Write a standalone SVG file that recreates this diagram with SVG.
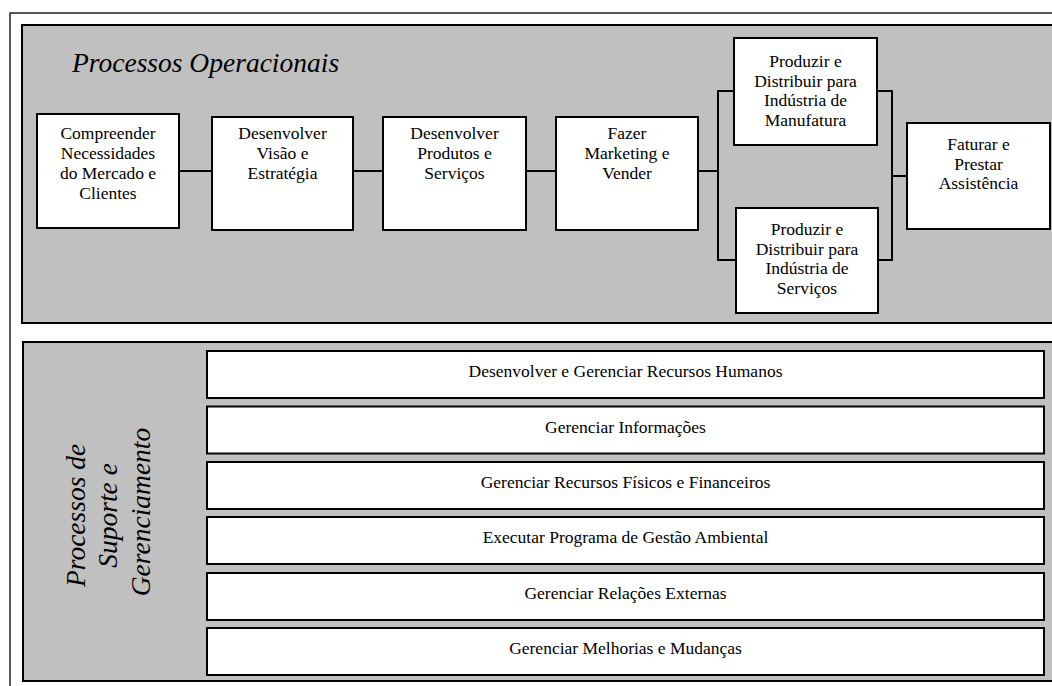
<svg xmlns="http://www.w3.org/2000/svg" width="1052" height="686" viewBox="0 0 1052 686">
  <style>
    .frame { fill: #ffffff; stroke: #222; stroke-width: 1.5; }
    .panel { fill: #c0c0c0; stroke: #000; stroke-width: 2; }
    .box { fill: #ffffff; stroke: #000; stroke-width: 2; }
    .lbl { font-family: "Liberation Serif", "Times New Roman", serif; font-size: 17.5px; fill: #000; text-anchor: middle; }
    .ttl { font-family: "Liberation Serif", "Times New Roman", serif; font-size: 27.5px; font-style: italic; fill: #000; }
    .wire { fill: none; stroke: #000; stroke-width: 2; }
  </style>

  <rect width="1052" height="686" fill="#ffffff"/>
  <rect class="frame" x="10" y="13" width="1060" height="690"/>

  <!-- operational processes band -->
  <g id="operacionais">
    <rect class="panel" x="22" y="25" width="1040" height="298"/>
    <text class="ttl" x="72" y="72">Processos Operacionais</text>
  </g>

  <!-- support and management band -->
  <g id="suporte">
    <rect class="panel" x="23" y="342" width="1040" height="339"/>
    <text class="ttl" text-anchor="middle" transform="translate(0,512) rotate(-90)">
      <tspan x="0" y="85">Processos de</tspan>
      <tspan x="0" y="117">Suporte e</tspan>
      <tspan x="0" y="150">Gerenciamento</tspan>
    </text>
  </g>

  <!-- connectors -->
  <g id="connectors">
    <line class="wire" x1="179" y1="171" x2="212" y2="171"/>
    <line class="wire" x1="353" y1="171" x2="383" y2="171"/>
    <line class="wire" x1="526" y1="171" x2="556" y2="171"/>
    <line class="wire" x1="698" y1="171" x2="718" y2="171"/>
    <polyline class="wire" points="734,91 718,91 718,260 736,260"/>
    <polyline class="wire" points="877,91 892,91 892,260 878,260"/>
    <line class="wire" x1="892" y1="176" x2="907" y2="176" stroke-width="2.5"/>
  </g>

  <g id="n-compreender">
    <rect class="box" x="37" y="114" width="142" height="114"/>
    <text class="lbl"><tspan x="108" y="139">Compreender</tspan><tspan x="108" y="159">Necessidades</tspan><tspan x="108" y="179">do Mercado e</tspan><tspan x="108" y="199">Clientes</tspan></text>
  </g>
  <g id="n-visao">
    <rect class="box" x="212" y="117" width="141" height="113"/>
    <text class="lbl"><tspan x="282.5" y="139">Desenvolver</tspan><tspan x="282.5" y="159">Visão e</tspan><tspan x="282.5" y="179">Estratégia</tspan></text>
  </g>
  <g id="n-produtos">
    <rect class="box" x="383" y="117" width="143" height="113"/>
    <text class="lbl"><tspan x="454.5" y="139">Desenvolver</tspan><tspan x="454.5" y="159">Produtos e</tspan><tspan x="454.5" y="179">Serviços</tspan></text>
  </g>
  <g id="n-marketing">
    <rect class="box" x="556" y="117" width="142" height="113"/>
    <text class="lbl"><tspan x="627" y="139">Fazer</tspan><tspan x="627" y="159">Marketing e</tspan><tspan x="627" y="179">Vender</tspan></text>
  </g>
  <g id="n-manufatura">
    <rect class="box" x="734" y="38" width="143" height="107"/>
    <text class="lbl"><tspan x="805.5" y="67">Produzir e</tspan><tspan x="805.5" y="86.5">Distribuir para</tspan><tspan x="805.5" y="106">Indústria de</tspan><tspan x="805.5" y="125.5">Manufatura</tspan></text>
  </g>
  <g id="n-servicos">
    <rect class="box" x="736" y="208" width="142" height="105"/>
    <text class="lbl"><tspan x="807" y="235">Produzir e</tspan><tspan x="807" y="254.5">Distribuir para</tspan><tspan x="807" y="274">Indústria de</tspan><tspan x="807" y="293.5">Serviços</tspan></text>
  </g>
  <g id="n-faturar">
    <rect class="box" x="907" y="123" width="143" height="106"/>
    <text class="lbl"><tspan x="978.5" y="150">Faturar e</tspan><tspan x="978.5" y="169.5">Prestar</tspan><tspan x="978.5" y="189">Assistência</tspan></text>
  </g>

  <g id="s-rh">
    <rect class="box" x="207" y="351" width="837" height="47"/>
    <text class="lbl" x="625.5" y="377">Desenvolver e Gerenciar Recursos Humanos</text>
  </g>
  <g id="s-info">
    <rect class="box" x="207" y="406.5" width="837" height="47"/>
    <text class="lbl" x="625.5" y="432.5">Gerenciar Informações</text>
  </g>
  <g id="s-recursos">
    <rect class="box" x="207" y="462" width="837" height="47"/>
    <text class="lbl" x="625.5" y="488">Gerenciar Recursos Físicos e Financeiros</text>
  </g>
  <g id="s-ambiental">
    <rect class="box" x="207" y="517" width="837" height="47"/>
    <text class="lbl" x="625.5" y="543">Executar Programa de Gestão Ambiental</text>
  </g>
  <g id="s-externas">
    <rect class="box" x="207" y="573" width="837" height="47"/>
    <text class="lbl" x="625.5" y="599">Gerenciar Relações Externas</text>
  </g>
  <g id="s-melhorias">
    <rect class="box" x="207" y="628" width="837" height="47"/>
    <text class="lbl" x="625.5" y="654">Gerenciar Melhorias e Mudanças</text>
  </g>
</svg>
